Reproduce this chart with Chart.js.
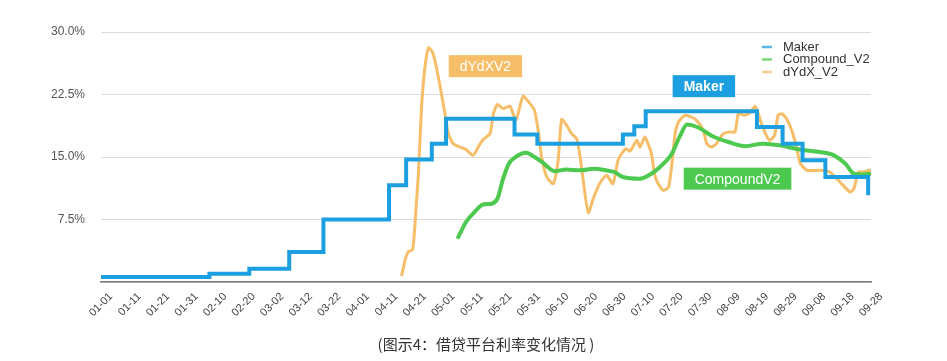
<!DOCTYPE html>
<html>
<head>
<meta charset="utf-8">
<script src="https://cdn.jsdelivr.net/npm/chart.js@4/dist/chart.umd.min.js"></script>
<style>
  body { margin: 0; background: #fff; }
  canvas { display: block; }
</style>
</head>
<body>
<canvas id="rates" width="947" height="361"></canvas>
<script>
// x = days since 01-01, y = rate in %
var xTickLabels = ['01-01', '01-11', '01-21', '01-31', '02-10', '02-20', '03-02', '03-12', '03-22', '04-01',
    '04-11', '04-21', '05-01', '05-11', '05-21', '05-31', '06-10', '06-20', '06-30', '07-10',
    '07-20', '07-30', '08-09', '08-19', '08-29', '09-08', '09-18', '09-28']

var makerDays  = [0, 38, 52, 66, 78, 101, 107, 116, 121, 145, 153, 183, 187, 191, 230, 239, 246, 254, 269]
var makerRates = [0.6, 1.0, 1.6, 3.6, 7.5, 11.6, 14.7, 16.6, 19.6, 17.7, 16.6, 17.7, 18.7, 20.5, 18.6, 16.6, 14.6, 12.6, 10.4]

var compoundDays  = [125, 128, 131, 134, 137, 139, 141, 143, 145, 149, 152, 155, 159, 163, 168, 173, 177, 180, 183, 189,
    193, 196, 200, 203, 205.5, 209, 215, 220, 226, 232, 238, 245, 252, 257, 261, 264, 267, 270]
var compoundRates = [5.2, 7.2, 8.4, 9.3, 9.4, 10.0, 12.4, 14.2, 14.9, 15.5, 15.0, 14.3, 13.3, 13.5, 13.4, 13.6, 13.4, 13.2, 12.6, 12.4,
    13.0, 13.8, 15.3, 17.5, 18.9, 18.6, 17.4, 16.8, 16.3, 16.6, 16.4, 15.9, 15.6, 15.2, 14.2, 13.0, 12.9, 13.0]

var dydxDays  = [105.4, 106.6, 107.7, 109.3, 110.5, 111.3, 112.4, 113.6, 114.8, 116.2, 117.2, 118.9, 120.6, 121.8, 123.5, 125.9, 128, 130.5, 132.3, 134,
    136.4, 137.6, 139, 141, 143.4, 145.5, 148, 150.4, 152, 153.3, 154.5, 156.3, 158.6, 160.3, 161.5, 163.3, 165, 166.8, 168, 169.7,
    170.9, 172.6, 175, 177.3, 179.5, 181.3, 183, 184.2, 185.5, 187.9, 189, 190.7, 191.8, 193, 194.2, 195.4, 197.2, 199, 200.2, 201.3,
    202.5, 204.8, 207, 208.8, 211.2, 212.4, 214, 215.8, 218.2, 220.5, 222.3, 223.5, 225.5, 227.5, 229.3, 230.5, 232, 234.4, 236.2, 237.4,
    238.7, 240.4, 242.2, 244, 245.2, 247.6, 252, 255.6, 259.1, 262.6, 264, 265.6, 267.4, 269.2, 270]
var dydxRates = [0.7, 2.6, 3.6, 3.9, 9.0, 13.0, 21.0, 25.8, 28.1, 27.6, 26.4, 23.5, 20.2, 17.8, 16.6, 16.2, 15.9, 15.2, 16.2, 17.1,
    17.8, 20.2, 21.3, 20.8, 21.1, 19.4, 22.3, 21.4, 20.6, 18.2, 15.0, 12.6, 11.8, 14.6, 19.5, 18.8, 17.8, 17.2, 15.0, 10.6,
    8.3, 10.0, 11.9, 12.8, 11.8, 14.6, 15.6, 16.0, 15.7, 17.0, 16.2, 17.4, 16.6, 15.4, 12.8, 11.8, 11.0, 11.4, 14.2, 17.8,
    19.2, 20.0, 19.8, 19.4, 18.2, 16.6, 16.2, 16.6, 17.8, 18.0, 18.0, 20.2, 20.0, 20.3, 21.1, 20.2, 18.6, 17.0, 17.6, 20.0,
    20.2, 19.6, 18.2, 16.0, 14.2, 13.4, 13.4, 13.2, 12.0, 10.8, 11.2, 13.2, 13.2, 13.4, 13.3]

function toPoints(days, rates) {
    return days.map(function(d, i) { return {x: d, y: rates[i]} })
}

var BLUE = '#1c9fe0', GREEN = '#4cc94e', ORANGE = '#f6be68'

// call-out boxes, anchored in data space
var callouts = [
    {text: 'dYdXV2', day: 134.8, rate: 25.9, color: ORANGE, bold: false},
    {text: 'Maker', day: 211.4, rate: 23.5, color: BLUE, bold: true},
    {text: 'CompoundV2', day: 223.2, rate: 12.4, color: GREEN, bold: false}
]

var calloutPlugin = {
    id: 'callouts',
    afterDatasetsDraw: function(chart) {
        var ctx = chart.ctx, xs = chart.scales.x, ys = chart.scales.y
        ctx.save()
        callouts.forEach(function(c) {
            ctx.font = (c.bold ? 'bold ' : '') + '14px "Liberation Sans", Arial, sans-serif'
            var w = ctx.measureText(c.text).width + 22, h = 22
            var cx = xs.getPixelForValue(c.day), cy = ys.getPixelForValue(c.rate)
            ctx.fillStyle = c.color
            ctx.fillRect(cx - w / 2, cy - h / 2, w, h)
            ctx.fillStyle = '#fff'
            ctx.textAlign = 'center'
            ctx.textBaseline = 'middle'
            ctx.fillText(c.text, cx, cy + 1)
        })
        ctx.restore()
    }
}

var legendPlugin = {
    id: 'sideLegend',
    afterDraw: function(chart) {
        var ctx = chart.ctx, area = chart.chartArea
        ctx.save()
        ctx.font = '13px "Liberation Sans", Arial, sans-serif'
        ctx.textBaseline = 'middle'
        chart.data.datasets.forEach(function(ds, i) {
            var y = area.top + 15 + i * 12.5
            var x = area.right - 109
            ctx.strokeStyle = ds.borderColor
            ctx.globalAlpha = 0.75
            ctx.lineWidth = 2.5
            ctx.beginPath()
            ctx.moveTo(x, y)
            ctx.lineTo(x + 10, y)
            ctx.stroke()
            ctx.globalAlpha = 1
            ctx.fillStyle = '#333'
            ctx.fillText(ds.label, x + 21, y)
        })
        ctx.restore()
    }
}

var context = document.getElementById('rates').getContext('2d')

var chart = new Chart(context, {
    type: 'line',
    data: {
        datasets: [{
            label: 'Maker',
            data: toPoints(makerDays, makerRates),
            borderColor: BLUE,
            borderWidth: 4,
            stepped: true,
            pointRadius: 0
        }, {
            label: 'Compound_V2',
            data: toPoints(compoundDays, compoundRates),
            borderColor: GREEN,
            borderWidth: 4,
            cubicInterpolationMode: 'monotone',
            pointRadius: 0
        }, {
            label: 'dYdX_V2',
            data: toPoints(dydxDays, dydxRates),
            borderColor: ORANGE,
            borderWidth: 3,
            tension: 0.2,
            pointRadius: 0
        }]
    },
    options: {
        responsive: false,
        animation: false,
        layout: {padding: {top: 32, right: 76, bottom: 8, left: 0}},
        plugins: {
            legend: {display: false},
            tooltip: {enabled: false},
            title: {
                display: true,
                position: 'bottom',
                fullSize: false,
                text: '(图示4：借贷平台利率变化情况 )',
                color: '#333',
                font: {family: '"Noto Sans CJK SC"', size: 15, weight: 'normal'},
                padding: 0
            }
        },
        scales: {
            x: {
                type: 'linear',
                min: 0,
                max: 270,
                grid: {display: false},
                border: {display: true, color: '#7a7a7a', width: 1.5},
                ticks: {
                    stepSize: 10,
                    autoSkip: false,
                    minRotation: 45,
                    maxRotation: 45,
                    padding: 0,
                    labelOffset: 10,
                    color: '#444',
                    font: {family: '"Liberation Sans", Arial, sans-serif', size: 11},
                    callback: function(v) { return v % 10 === 0 ? xTickLabels[v / 10] : '' }
                },
                afterFit: function(s) { s.height = 53 }
            },
            y: {
                min: 0,
                max: 30,
                grid: {color: '#dcdcdc', drawTicks: false},
                border: {display: false},
                ticks: {
                    stepSize: 7.5,
                    padding: 16,
                    color: '#555',
                    font: {family: '"Liberation Sans", Arial, sans-serif', size: 12},
                    callback: function(v) { return v === 0 ? '' : v.toFixed(1) + '%' }
                },
                afterFit: function(s) { s.width = 101 }
            }
        }
    },
    plugins: [calloutPlugin, legendPlugin]
})
</script>
</body>
</html>
